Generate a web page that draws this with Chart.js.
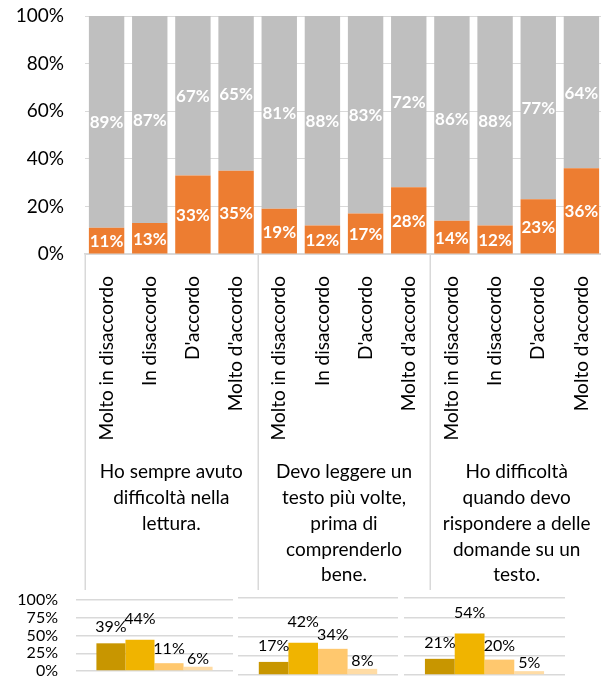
<!DOCTYPE html>
<html><head><meta charset="utf-8">
<script src="https://cdn.jsdelivr.net/npm/chart.js@4.4.1/dist/chart.umd.min.js"></script>
<style>
html,body{margin:0;padding:0;background:#fff;overflow:hidden;width:601px;height:677px;position:relative;}
.box{position:absolute;}
canvas{display:block;}
</style></head><body>
<div class="box" style="left:0;top:0;"><canvas id="main" width="603" height="600"></canvas></div>
<div class="box" style="left:0;top:580px;"><canvas id="m1" width="233" height="110"></canvas></div>
<div class="box" style="left:238px;top:580px;"><canvas id="m2" width="160" height="110"></canvas></div>
<div class="box" style="left:404px;top:580px;"><canvas id="m3" width="161" height="110"></canvas></div>
<script>
// ---- data ----
const answers = ["Molto in disaccordo", "In disaccordo", "D'accordo", "Molto d'accordo"];
const statements = [
  ["Ho sempre avuto", "difficoltà nella", "lettura."],
  ["Devo leggere un", "testo più volte,", "prima di", "comprenderlo", "bene."],
  ["Ho difficoltà", "quando devo", "rispondere a delle", "domande su un", "testo."]
];
const agreeShare = [11, 13, 33, 35, 19, 12, 17, 28, 14, 12, 23, 36];
const restShare  = [89, 87, 67, 65, 81, 88, 83, 72, 86, 88, 77, 64];
const miniDark  = [39, 17, 21];
const miniGold  = [44, 42, 54];
const miniLight = [11, 34, 20];
const miniPale  = [6, 8, 5];

const FONT = 'Lato';
const GRID = '#D9D9D9';

function noPad(s) { s.paddingLeft = 0; s.paddingRight = 0; s.paddingTop = 0; s.paddingBottom = 0; }

const barLabels = {
  id: 'barLabels',
  afterDatasetsDraw(chart, args, opts) {
    const ctx = chart.ctx;
    ctx.save();
    chart.data.datasets.forEach((ds, i) => {
      const meta = chart.getDatasetMeta(i);
      if (meta.hidden) return;
      meta.data.forEach((el, j) => {
        const v = ds.data[j];
        const p = el.getProps(['x', 'y', 'base'], true);
        ctx.font = (opts.weight || 'normal') + ' ' + opts.size + 'px ' + FONT;
        ctx.fillStyle = opts.color;
        ctx.textAlign = 'center';
        ctx.textBaseline = 'middle';
        let y;
        if (opts.mode === 'center') y = (p.y + p.base) / 2 + 1;
        else y = p.y - (ds.labelGap || 14);
        ctx.fillText(v + '%', p.x + (ds.labelDx || 0), y);
      });
    });
    ctx.restore();
  }
};

const separators = {
  id: 'separators',
  afterDraw(chart) {
    const xs = chart.scales.x;
    const n = xs.ticks.length;
    const w = (xs.right - xs.left) / n;
    const ctx = chart.ctx;
    ctx.save();
    ctx.strokeStyle = GRID;
    ctx.lineWidth = 1.5;
    for (let k = 0; k <= statements.length; k++) {
      const x = Math.round(xs.left + k * answers.length * w) + 0.25;
      ctx.beginPath();
      ctx.moveTo(x, chart.chartArea.bottom);
      ctx.lineTo(x, 590);
      ctx.stroke();
    }
    ctx.restore();
  }
};

function build() {
  const labels = statements.flatMap(() => answers);
  new Chart(document.getElementById('main'), {
    type: 'bar',
    data: {
      labels: labels,
      datasets: [
        { data: agreeShare, backgroundColor: '#ED7D31', categoryPercentage: 1, barPercentage: 0.82 },
        { data: restShare, backgroundColor: '#BFBFBF', categoryPercentage: 1, barPercentage: 0.82 }
      ]
    },
    options: {
      responsive: false, animation: false, devicePixelRatio: 1,
      layout: { autoPadding: false, padding: { top: 16, left: 0, right: 0, bottom: 0 } },
      plugins: {
        legend: { display: false }, tooltip: { enabled: false }, title: { display: false },
        barLabels: { mode: 'center', color: '#fff', size: 17, weight: 'bold' }
      },
      scales: {
        x: {
          stacked: true, position: 'bottom',
          grid: { display: false },
          border: { display: true, color: GRID, width: 1.5 },
          ticks: { autoSkip: false, minRotation: 90, maxRotation: 90, padding: 14, color: '#000',
                   font: { family: FONT, size: 19 } },
          afterFit(s) { s.height = 200; noPad(s); }
        },
        x2: {
          type: 'category', labels: statements, position: 'bottom', offset: true,
          grid: { display: false }, border: { display: false },
          ticks: { autoSkip: false, minRotation: 0, maxRotation: 0, padding: -3, color: '#000',
                   font: { family: FONT, size: 19, lineHeight: 1.36 } },
          afterFit(s) { s.height = 146; noPad(s); }
        },
        y: {
          stacked: true, min: 0, max: 100,
          ticks: { stepSize: 20, callback: v => v + '%', padding: 21, color: '#000',
                   font: { family: FONT, size: 19 } },
          grid: { color: GRID, drawTicks: false, lineWidth: 1 },
          border: { display: false },
          afterFit(s) { s.width = 85; noPad(s); }
        }
      }
    },
    plugins: [barLabels, separators]
  });

  const series = [
    { vals: miniDark,  color: '#C89600', gap: 16 },
    { vals: miniGold,  color: '#F0B400', gap: 21 },
    { vals: miniLight, color: '#FFC86E', gap: 14 },
    { vals: miniPale,  color: '#FFDCA5', gap: 8 }
  ];
  const panels = [
    { id: 'm1', showY: true,  top: 20, bottom: 19 },
    { id: 'm2', showY: false, top: 18, bottom: 15 },
    { id: 'm3', showY: false, top: 18, bottom: 15 }
  ];
  panels.forEach((pn, p) => {
    new Chart(document.getElementById(pn.id), {
      type: 'bar',
      data: {
        labels: [''],
        datasets: series.map(s => ({ data: [s.vals[p]], backgroundColor: s.color, labelGap: s.gap,
                                     categoryPercentage: 0.74, barPercentage: 1 }))
      },
      options: {
        responsive: false, animation: false, devicePixelRatio: 1,
        layout: { autoPadding: false, padding: { top: pn.top, bottom: pn.bottom, left: 0, right: 0 } },
        plugins: {
          legend: { display: false }, tooltip: { enabled: false },
          barLabels: { mode: 'top', color: '#000', size: 16, weight: 'normal' }
        },
        scales: {
          x: { display: false },
          y: {
            min: 0, max: 100,
            ticks: { display: pn.showY, autoSkip: false, stepSize: 25, callback: v => v + '%', padding: 18, color: '#000',
                     font: { family: FONT, size: 16 } },
            grid: { color: GRID, drawTicks: false, lineWidth: 1.5 },
            border: { display: false },
            afterFit(s) { s.width = pn.showY ? 76 : 0; noPad(s); }
          }
        }
      },
      plugins: [barLabels]
    });
  });
}

if (document.fonts && document.fonts.load) {
  Promise.all([document.fonts.load('19px Lato'), document.fonts.load('bold 16px Lato')])
    .then(build, build);
} else build();
</script>
</body></html>
